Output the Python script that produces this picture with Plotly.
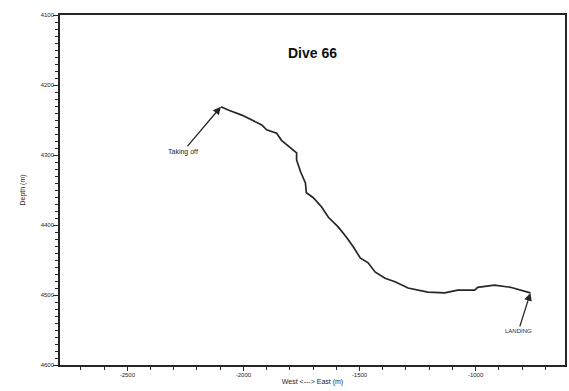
import plotly.graph_objects as go

# Dive 66 track: horizontal position (m, west-east) and depth (m)
track_x = [-2097, -2063, -2007, -1964, -1921, -1900, -1857, -1836, -1797, -1771,
           -1771, -1754, -1733, -1729, -1699, -1664, -1634, -1591, -1557, -1527,
           -1497, -1463, -1433, -1390, -1347, -1291, -1206, -1133, -1077, -1004,
           -991, -919, -850, -807, -764]
track_depth = [4231, 4236, 4243, 4250, 4257, 4264, 4269, 4279, 4290, 4297,
               4307, 4324, 4340, 4354, 4361, 4374, 4389, 4403, 4417, 4431,
               4447, 4454, 4467, 4476, 4481, 4490, 4496, 4497, 4493, 4493,
               4489, 4486, 4489, 4493, 4497]

x_ticks = [-2500, -2000, -1500, -1000]
y_ticks = [4100, 4200, 4300, 4400, 4500, 4600]

font = "Liberation Sans, Arial, sans-serif"
ink = "#262626"
x_range = [-2790, -615]
y_range = [4600, 4100]

# Small tick positions: every 100 m across, every 10 m in depth
x_small = list(range(-2700, -600, 100))
y_small = list(range(y_ticks[0], y_ticks[-1] + 1, 10))


def labels(positions, labelled):
    return [str(v) if v in labelled else "" for v in positions]


fig = go.Figure()
fig.add_trace(go.Scatter(
    x=track_x, y=track_depth, mode="lines",
    line=dict(color=ink, width=1.7),
    showlegend=False, hoverinfo="skip",
))
# invisible trace tying the overlay axes (long ticks) to the plot
fig.add_trace(go.Scatter(
    x=[track_x[0]], y=[track_depth[0]], xaxis="x2", yaxis="y2",
    mode="markers", marker=dict(opacity=0), showlegend=False, hoverinfo="skip",
))

# Take-off and landing markers
fig.add_annotation(
    x=track_x[0], y=track_depth[0], text="Taking off",
    showarrow=True, arrowhead=2, arrowsize=1.2, arrowwidth=1.3, arrowcolor=ink,
    ax=-38, ay=45, font=dict(family=font, size=7, color=ink),
)
fig.add_annotation(
    x=track_x[-1], y=track_depth[-1], text="LANDING",
    showarrow=True, arrowhead=2, arrowsize=1.2, arrowwidth=1.3, arrowcolor=ink,
    ax=-12, ay=38, font=dict(family=font, size=6, color=ink),
)

fig.add_annotation(
    xref="paper", yref="paper", x=0.5, y=0.92, text="<b>Dive 66</b>",
    showarrow=False, font=dict(family=font, size=14, color="#111"),
)

fig.update_layout(
    width=569, height=391,
    margin=dict(l=60, r=2, t=15, b=26),
    paper_bgcolor="white", plot_bgcolor="white",
    font=dict(family=font, color=ink),
    xaxis=dict(
        range=x_range,
        tickmode="array", tickvals=x_small, ticktext=labels(x_small, x_ticks),
        ticks="outside", ticklen=3, tickwidth=1.2, tickcolor=ink,
        tickfont=dict(size=6, family=font, color=ink),
        showline=True, linecolor=ink, linewidth=1.6, mirror=True,
        showgrid=False, zeroline=False,
        title=dict(text="West <---> East (m)", font=dict(size=7, family=font, color=ink), standoff=2),
    ),
    yaxis=dict(
        range=y_range,
        tickmode="array", tickvals=y_small, ticktext=labels(y_small, y_ticks),
        ticks="outside", ticklen=3, tickwidth=1.1, tickcolor=ink,
        tickfont=dict(size=6, family=font, color=ink),
        showline=True, linecolor=ink, linewidth=1.6, mirror=True,
        showgrid=False, zeroline=False,
        title=dict(text="Depth (m)", font=dict(size=7, family=font, color=ink), standoff=14),
    ),
    xaxis2=dict(
        range=x_range, overlaying="x", side="bottom", anchor="y",
        tickmode="array", tickvals=x_ticks, ticktext=[""] * len(x_ticks),
        ticks="outside", ticklen=5, tickwidth=1.4, tickcolor=ink,
        showline=False, showgrid=False, zeroline=False,
    ),
    yaxis2=dict(
        range=y_range, overlaying="y", side="left", anchor="x",
        tickmode="array", tickvals=y_ticks, ticktext=[""] * len(y_ticks),
        ticks="outside", ticklen=6, tickwidth=1.4, tickcolor=ink,
        showline=False, showgrid=False, zeroline=False,
    ),
)

fig.write_html("out.html")
